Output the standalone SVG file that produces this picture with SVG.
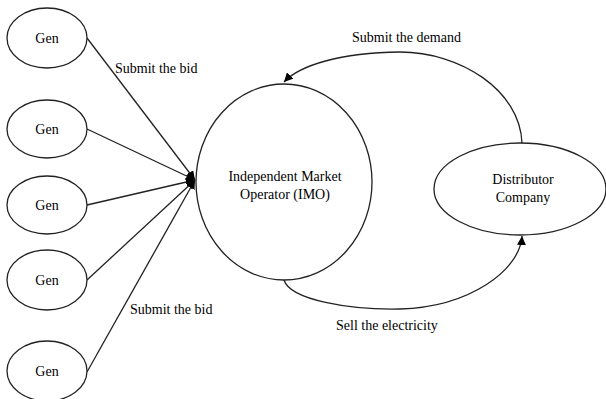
<svg xmlns="http://www.w3.org/2000/svg" width="606" height="399" viewBox="0 0 606 399" font-family="'Liberation Serif', 'DejaVu Serif', serif">
<defs>
<style>
.node ellipse{fill:#fff;stroke:#222;stroke-width:1.3}
text{font-family:'Liberation Serif','DejaVu Serif',serif;font-size:14px;fill:#000}
.mid{text-anchor:middle}
.conn path,.conn line{fill:none;stroke:#222;stroke-width:1.3}
</style>
<marker id="arr" viewBox="0 0 10 10" refX="10" refY="5" markerWidth="9" markerHeight="9" markerUnits="userSpaceOnUse" orient="auto">
<path d="M0,0 L10,5 L0,10 z" fill="#000"/>
</marker>
</defs>
<rect width="606" height="399" fill="#fff"/>
<g id="connectors" class="conn">
<line x1="87" y1="38" x2="195" y2="180" marker-end="url(#arr)"/>
<line x1="87" y1="129" x2="195" y2="180" marker-end="url(#arr)"/>
<line x1="87" y1="205" x2="195" y2="180" marker-end="url(#arr)"/>
<line x1="87" y1="280" x2="195" y2="180" marker-end="url(#arr)"/>
<line x1="87" y1="372" x2="195" y2="180" marker-end="url(#arr)"/>
<path d="M522,143 C520,90 460,52 400,52 C340,53 300,65 284,82" marker-end="url(#arr)"/>
<path d="M284,280 C290,300 350,310 400,309 C470,307 520,270 522,236" marker-end="url(#arr)"/>
<text x="115" y="73">Submit the bid</text>
<text x="130" y="314">Submit the bid</text>
<text x="352" y="42">Submit the demand</text>
<text x="336" y="330">Sell the electricity</text>
</g>
<g id="gen1" class="node"><ellipse cx="47" cy="38" rx="40" ry="30"/><text class="mid" x="47" y="43">Gen</text></g>
<g id="gen2" class="node"><ellipse cx="47" cy="129" rx="40" ry="29"/><text class="mid" x="47" y="134">Gen</text></g>
<g id="gen3" class="node"><ellipse cx="47" cy="205" rx="40" ry="29"/><text class="mid" x="47" y="210">Gen</text></g>
<g id="gen4" class="node"><ellipse cx="47" cy="280" rx="40" ry="30"/><text class="mid" x="47" y="285">Gen</text></g>
<g id="gen5" class="node"><ellipse cx="47" cy="371" rx="40" ry="30"/><text class="mid" x="47" y="376">Gen</text></g>
<g id="imo" class="node"><ellipse cx="284" cy="182" rx="88" ry="98"/><text class="mid" x="285" y="181">Independent Market</text><text class="mid" x="285" y="199">Operator (IMO)</text></g>
<g id="distributor" class="node"><ellipse cx="520" cy="189" rx="86" ry="46"/><text class="mid" x="523" y="184">Distributor</text><text class="mid" x="523" y="202">Company</text></g>
</svg>
